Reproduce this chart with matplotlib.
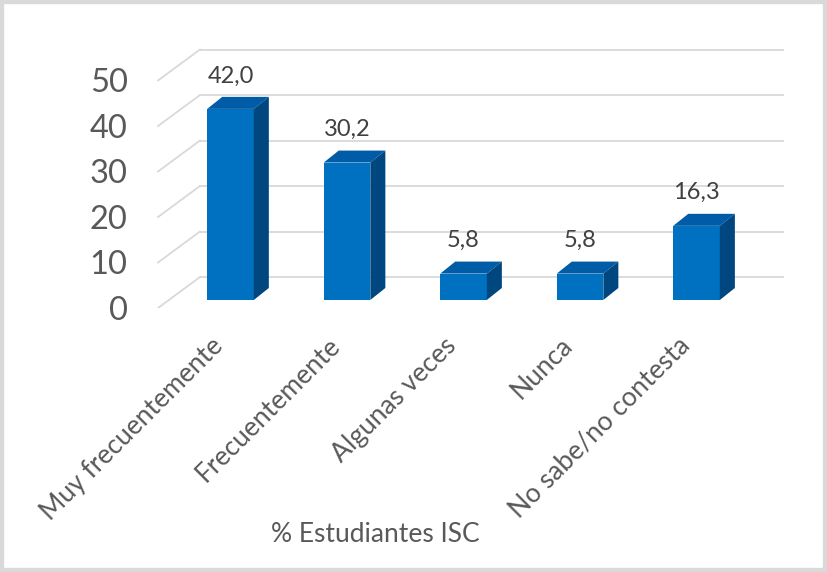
import numpy as np
import matplotlib
matplotlib.use('Agg')
import matplotlib.pyplot as plt
from matplotlib.patches import Polygon, Rectangle

plt.rcParams['font.family'] = ['Lato', 'DejaVu Sans']

# data
categorias = ['Muy frecuentemente', 'Frecuentemente', 'Algunas veces', 'Nunca', 'No sabe/no contesta']
valores = [42.0, 30.2, 5.8, 5.8, 16.3]
yticks = [0, 10, 20, 30, 40, 50]
titulo_eje = '% Estudiantes ISC'

# colores
c_front = '#0070C0'
c_top = '#005CA6'
c_side = '#00467F'
c_grid = '#D9D9D9'
c_text = '#595959'

# "3d" look
ancho = 0.40          # bar width (categories)
bdx, bdy = 0.129, 2.64   # bar depth offset
back_dy = 5.05        # back wall offset (value units)
front_dy = -1.76      # front floor offset
wall_x0, wall_x1 = -0.262, 4.742
floor_x0 = -0.622

fig = plt.figure(figsize=(8.27, 5.72), dpi=100)
ax = fig.add_axes([150/827, 1-308/572, 650/827, 268/572])
ax.set_xlim(-0.691, 4.888)
ax.set_ylim(-1.758, 57.14)
for s in ax.spines.values():
    s.set_visible(False)

# gridlines on back wall + diagonal on the side
for v in yticks:
    ax.plot([wall_x0, wall_x1], [v+back_dy, v+back_dy], color=c_grid, lw=1.3, zorder=1)
    ax.plot([floor_x0, wall_x0], [v+front_dy, v+back_dy], color=c_grid, lw=1.3, zorder=1)

x = np.arange(len(categorias))
ax.bar(x, valores, width=ancho, color=c_front, zorder=3)
for xi, v in zip(x, valores):
    l, r = xi-ancho/2, xi+ancho/2
    ax.add_patch(Polygon([(l, v), (r, v), (r+bdx, v+bdy), (l+bdx, v+bdy)],
                         closed=True, facecolor=c_top, edgecolor='none', zorder=3))
    ax.add_patch(Polygon([(r, 0), (r+bdx, bdy), (r+bdx, v+bdy), (r, v)],
                         closed=True, facecolor=c_side, edgecolor='none', zorder=3))
    ax.text(xi, v+7.25, ('%.1f' % v).replace('.', ','), ha='center', va='center',
            fontsize=17, color='#404040', zorder=4)

ax.set_yticks([v+front_dy for v in yticks])
ax.set_yticklabels([str(v) for v in yticks], fontsize=23.5, color=c_text)
ax.tick_params(axis='y', length=0, pad=16)

ax.set_xticks(x-0.17)
ax.set_xticklabels(categorias, fontsize=19, color=c_text, rotation=45,
                   ha='right', rotation_mode='anchor')
ax.tick_params(axis='x', length=0, pad=18)

fig.text(375/827, 1-535/572, titulo_eje, ha='center', va='center', fontsize=19, color=c_text)

fig.patches.append(Rectangle((0, 0), 1, 1, transform=fig.transFigure, fill=False,
                             edgecolor='#D9D9D9', linewidth=6))

fig.savefig('out.png', dpi=100)
